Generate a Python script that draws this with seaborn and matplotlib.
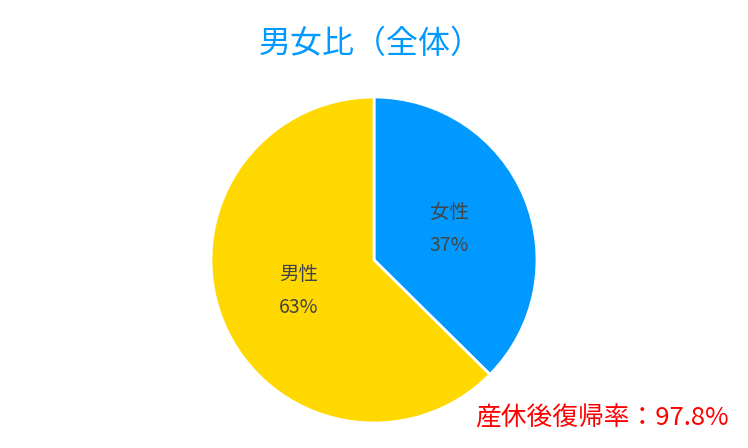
import matplotlib
matplotlib.use("Agg")
import matplotlib.pyplot as plt
import seaborn as sns

# chart data
labels = ["女性", "男性"]
shares = [37.4, 62.6]
colors = ["#0099ff", "#ffd800"]
title = "男女比（全体）"
note = "産休後復帰率：97.8%"

sns.set_theme(style="white")
plt.rcParams['font.family'] = ['Noto Sans CJK JP', 'DejaVu Sans']

fig = plt.figure(figsize=(7.48, 4.48), dpi=100)

# pie axes placed so that the circle sits where it is in the reference
cx, cy, r = 374, 260, 163
ax = fig.add_axes([(cx - r) / 748, (448 - cy - r) / 448, 2 * r / 748, 2 * r / 448])

pie_labels = [f"{name}\n{val:.0f}%" for name, val in zip(labels, shares)]
wedges, texts = ax.pie(
    shares,
    labels=pie_labels,
    colors=colors,
    startangle=90,
    counterclock=False,
    labeldistance=0.5,
    wedgeprops={'edgecolor': 'white', 'linewidth': 2},
    textprops={'fontsize': 14, 'color': '#444444', 'linespacing': 1.75},
)
for t in texts:
    t.set_ha('center')
    t.set_va('center')
ax.set_xlim(-1, 1)
ax.set_ylim(-1, 1)
ax.set_aspect('equal')

fig.text(371 / 748, 1 - 44 / 448, title, ha='center', va='center',
         fontsize=23, color='#0099ff')
fig.text(729 / 748, 1 - 418 / 448, note, ha='right', va='center',
         fontsize=18.5, color='#ff0000')

fig.savefig("out.png", dpi=100)
plt.close(fig)
